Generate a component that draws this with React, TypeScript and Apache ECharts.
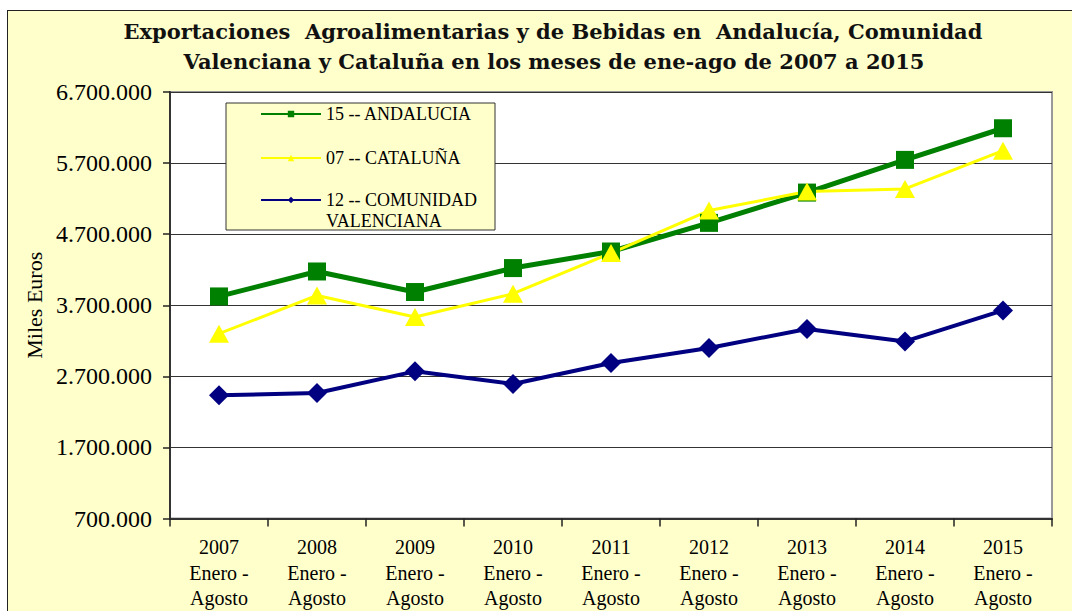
import React, { useEffect, useRef } from "react";
import * as echarts from "echarts";

const years = ["2007", "2008", "2009", "2010", "2011", "2012", "2013", "2014", "2015"];
const periodLines = ["Enero -", "Agosto"];

const andaluciaName = "15 -- ANDALUCIA";
const catalunaName = "07 -- CATALUÑA";
const valenciaName = "12 -- COMUNIDAD\nVALENCIANA";

const andalucia = [3824000, 4175000, 3886000, 4223000, 4456000, 4859000, 5285000, 5745000, 6190000];
const cataluna = [3300000, 3838000, 3534000, 3862000, 4434000, 5032000, 5299000, 5337000, 5875000];
const valenciana = [2433000, 2466000, 2770000, 2593000, 2888000, 3099000, 3366000, 3191000, 3627000];

const yMin = 700000;
const yMax = 6700000;
const yStep = 1000000;

const titleLines = [
  "Exportaciones  Agroalimentarias y de Bebidas en  Andalucía, Comunidad",
  "Valenciana y Cataluña en los meses de ene-ago de 2007 a 2015",
];
const yAxisName = "Miles Euros";

const BG = "#FFFFCC";
const SERIF = "'Liberation Serif', 'Times New Roman', serif";

function fmt(v: number): string {
  return String(Math.round(v)).replace(/\B(?=(\d{3})+(?!\d))/g, ".");
}

export default function App() {
  const ref = useRef<HTMLDivElement>(null);

  useEffect(() => {
    if (!ref.current) return;
    const chart = echarts.init(ref.current, undefined, { renderer: "svg" });
    const categories = years.map((y) => [y, ...periodLines].join("\n"));

    const legendText = {
      fontFamily: SERIF,
      fontSize: 18,
      color: "#000",
      lineHeight: 21,
    };

    const titleStyle = {
      fontFamily: "'DejaVu Serif', serif",
      fontWeight: "bold",
      fontSize: 21,
      fill: "#111",
      align: "center",
      verticalAlign: "middle",
    };

    const option: any = {
      animation: false,
      backgroundColor: "transparent",
      graphic: [
        {
          type: "rect",
          z: 3,
          shape: { x: 226, y: 103, width: 269, height: 127 },
          style: { fill: BG, stroke: "#333", lineWidth: 1 },
        },
        {
          type: "text",
          x: 553,
          y: 31,
          style: { ...titleStyle, text: titleLines[0] },
        },
        {
          type: "text",
          x: 554,
          y: 61,
          style: { ...titleStyle, text: titleLines[1] },
        },
      ],
      legend: [
        {
          data: [andaluciaName],
          left: 260,
          top: 103.5,
          padding: 0,
          itemWidth: 60,
          itemHeight: 8,
          textStyle: legendText,
        },
        {
          data: [catalunaName],
          left: 260,
          top: 147.5,
          padding: 0,
          itemWidth: 60,
          itemHeight: 8,
          textStyle: legendText,
        },
        {
          data: [valenciaName],
          left: 260,
          top: 168.5,
          padding: 0,
          itemWidth: 60,
          itemHeight: 8,
          formatter: (name: string) => "\n" + name,
          textStyle: legendText,
        },
      ],
      grid: {
        left: 170,
        right: 20,
        top: 92,
        bottom: 92,
        show: true,
        backgroundColor: "#ffffff",
        borderColor: "#999999",
        borderWidth: 2,
      },
      xAxis: {
        type: "category",
        data: categories,
        boundaryGap: true,
        axisLine: { show: true, lineStyle: { color: "#333", width: 2 } },
        axisTick: { show: true, length: 8, alignWithLabel: false, lineStyle: { color: "#222", width: 1.5 } },
        axisLabel: {
          interval: 0,
          margin: 16,
          fontFamily: SERIF,
          fontSize: 20,
          lineHeight: 25.5,
          color: "#000",
        },
        splitLine: { show: false },
      },
      yAxis: {
        type: "value",
        min: yMin,
        max: yMax,
        interval: yStep,
        name: yAxisName,
        nameLocation: "middle",
        nameGap: 124,
        nameTextStyle: { fontFamily: SERIF, fontSize: 22, color: "#000" },
        axisLine: { show: true, lineStyle: { color: "#333", width: 2 } },
        axisTick: { show: true, length: 7, lineStyle: { color: "#222", width: 1.5 } },
        axisLabel: {
          margin: 18,
          fontFamily: SERIF,
          fontSize: 24,
          color: "#000",
          formatter: (v: number) => fmt(v),
        },
        splitLine: { show: true, lineStyle: { color: "#333", width: 1 } },
      },
      series: [
        {
          name: andaluciaName,
          type: "line",
          data: andalucia,
          symbol: "rect",
          symbolSize: 18,
          lineStyle: { color: "#008000", width: 5 },
          itemStyle: { color: "#008000" },
        },
        {
          name: catalunaName,
          type: "line",
          data: cataluna,
          symbol: "triangle",
          symbolSize: [20, 18],
          lineStyle: { color: "#FFFF00", width: 3 },
          itemStyle: { color: "#FFFF00" },
        },
        {
          name: valenciaName,
          type: "line",
          data: valenciana,
          symbol: "diamond",
          symbolSize: 20,
          lineStyle: { color: "#000080", width: 4 },
          itemStyle: { color: "#000080" },
        },
      ],
    };

    chart.setOption(option);
    return () => {
      chart.dispose();
    };
  }, []);

  return (
    <div
      style={{
        position: "fixed",
        left: 0,
        top: 0,
        width: 1072,
        height: 611,
        overflow: "hidden",
        background: "#ffffff",
      }}
    >
      <div
        style={{
          position: "absolute",
          left: 7,
          top: 10,
          width: 1100,
          height: 700,
          background: BG,
          border: "1.5px solid #222",
        }}
      />
      <div ref={ref} style={{ position: "absolute", left: 0, top: 0, width: 1072, height: 611 }} />
    </div>
  );
}
